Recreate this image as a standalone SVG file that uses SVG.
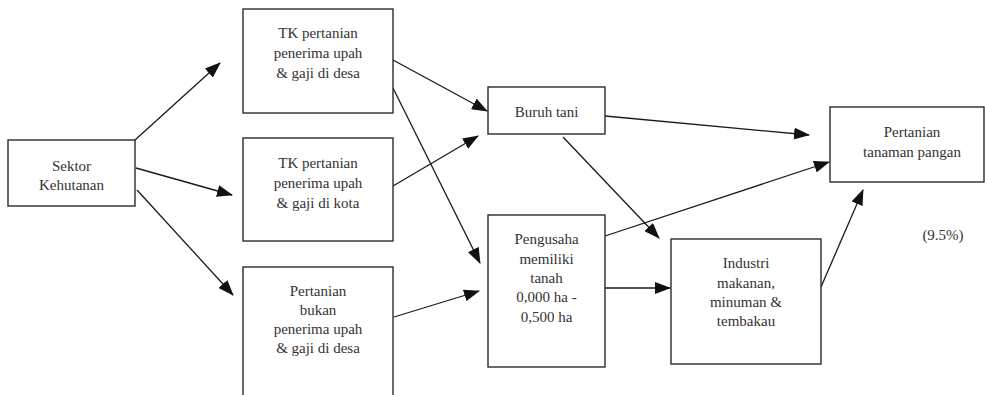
<svg xmlns="http://www.w3.org/2000/svg" width="985" height="395" viewBox="0 0 985 395">
<style>
.box{fill:#fff;stroke:#2a2a2a;stroke-width:1.4}
.s{font-family:"Liberation Serif",serif;font-size:15px;fill:#333;text-anchor:middle}
.c{stroke:#1a1a1a;stroke-width:1.3;fill:none;marker-end:url(#ah)}
</style>
<defs>
<marker id="ah" viewBox="0 0 16 12" refX="15" refY="6" markerWidth="16" markerHeight="12" markerUnits="userSpaceOnUse" orient="auto">
<path d="M0,0 L16,6 L0,12 Z" fill="#111"/>
</marker>
</defs>
<rect width="985" height="395" fill="#fff"/>
<g id="connectors">
<line class="c" x1="135" y1="140" x2="220" y2="63"/>
<line class="c" x1="136" y1="168" x2="232" y2="195"/>
<line class="c" x1="137" y1="190" x2="233" y2="295"/>
<line class="c" x1="393" y1="60" x2="487" y2="111"/>
<line class="c" x1="393" y1="88" x2="480" y2="263"/>
<line class="c" x1="393" y1="186" x2="478" y2="136"/>
<line class="c" x1="394" y1="317" x2="479" y2="291"/>
<line class="c" x1="605" y1="116" x2="809" y2="135"/>
<line class="c" x1="563" y1="137" x2="659" y2="238"/>
<line class="c" x1="605" y1="236" x2="829" y2="162"/>
<line class="c" x1="605" y1="288" x2="670" y2="288"/>
<line class="c" x1="821" y1="287" x2="863" y2="190"/>
</g>
<g id="sektor">
<rect class="box" x="8" y="140" width="127" height="66"/>
<text class="s" x="71.5" y="171" style="font-family:'Liberation Serif',serif">Sektor</text>
<text class="s" x="71.5" y="190" style="font-family:'Liberation Serif',serif">Kehutanan</text>
</g>
<g id="tk-desa">
<rect class="box" x="243" y="9" width="150" height="104"/>
<text class="s" x="318" y="38" style="font-family:'Liberation Serif',serif">TK pertanian</text>
<text class="s" x="318" y="58" style="font-family:'Liberation Serif',serif">penerima upah</text>
<text class="s" x="318" y="78" style="font-family:'Liberation Serif',serif">&amp; gaji di desa</text>
</g>
<g id="tk-kota">
<rect class="box" x="243" y="138" width="150" height="103"/>
<text class="s" x="318" y="168" style="font-family:'Liberation Serif',serif">TK pertanian</text>
<text class="s" x="318" y="188" style="font-family:'Liberation Serif',serif">penerima upah</text>
<text class="s" x="318" y="208" style="font-family:'Liberation Serif',serif">&amp; gaji di kota</text>
</g>
<g id="pertanian-bukan">
<rect class="box" x="243" y="267" width="150" height="135"/>
<text class="s" x="318" y="296" style="font-family:'Liberation Serif',serif">Pertanian</text>
<text class="s" x="318" y="315" style="font-family:'Liberation Serif',serif">bukan</text>
<text class="s" x="318" y="334" style="font-family:'Liberation Serif',serif">penerima upah</text>
<text class="s" x="318" y="353" style="font-family:'Liberation Serif',serif">&amp; gaji di desa</text>
</g>
<g id="buruh-tani">
<rect class="box" x="488" y="87" width="117" height="47"/>
<text class="s" x="546.5" y="117" style="font-family:'Liberation Serif',serif">Buruh tani</text>
</g>
<g id="pengusaha">
<rect class="box" x="488" y="215" width="117" height="152"/>
<text class="s" x="546.5" y="244" style="font-family:'Liberation Serif',serif">Pengusaha</text>
<text class="s" x="546.5" y="264" style="font-family:'Liberation Serif',serif">memiliki</text>
<text class="s" x="546.5" y="283" style="font-family:'Liberation Serif',serif">tanah</text>
<text class="s" x="546.5" y="302" style="font-family:'Liberation Serif',serif">0,000 ha -</text>
<text class="s" x="546.5" y="322" style="font-family:'Liberation Serif',serif">0,500 ha</text>
</g>
<g id="industri">
<rect class="box" x="671" y="239" width="150" height="125"/>
<text class="s" x="746" y="268" style="font-family:'Liberation Serif',serif">Industri</text>
<text class="s" x="746" y="288" style="font-family:'Liberation Serif',serif">makanan,</text>
<text class="s" x="746" y="307" style="font-family:'Liberation Serif',serif">minuman &amp;</text>
<text class="s" x="746" y="326" style="font-family:'Liberation Serif',serif">tembakau</text>
</g>
<g id="pertanian-pangan">
<rect class="box" x="830" y="107" width="154" height="75"/>
<text class="s" x="912" y="137" style="font-family:'Liberation Serif',serif">Pertanian</text>
<text class="s" x="912" y="157" style="font-family:'Liberation Serif',serif">tanaman pangan</text>
</g>
<text class="s" x="943" y="240" style="font-family:'Liberation Serif',serif">(9.5%)</text>
</svg>
